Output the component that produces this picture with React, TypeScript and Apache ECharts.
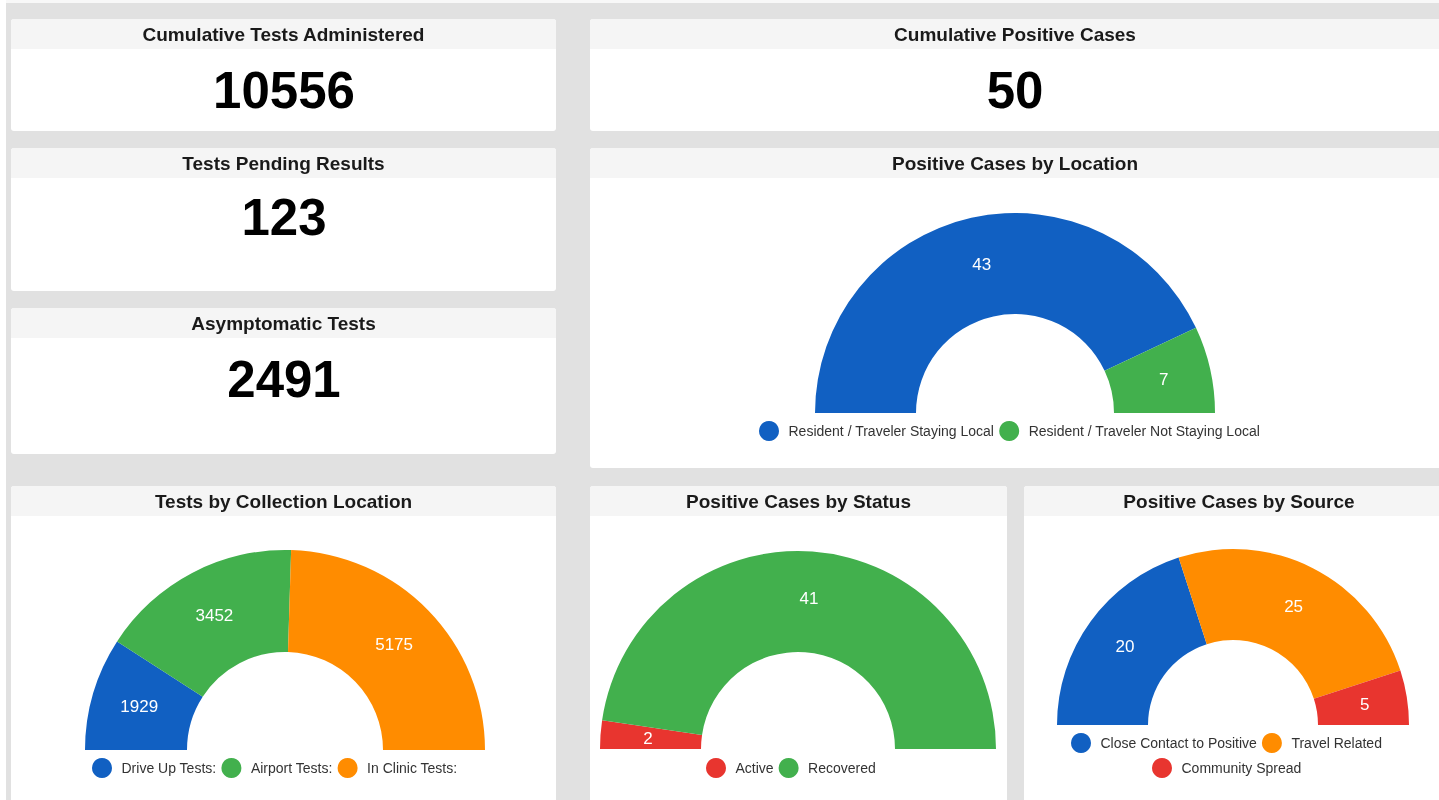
import React, { useEffect, useRef } from "react";
import * as echarts from "echarts";

// ---- data ----
const statTitles = ["Cumulative Tests Administered", "Cumulative Positive Cases", "Tests Pending Results", "Asymptomatic Tests"];
const statValues = [10556, 50, 123, 2491];

const locationNames = ["Resident / Traveler Staying Local", "Resident / Traveler Not Staying Local"];
const locationValues = [43, 7];

const collectionNames = ["Drive Up Tests:", "Airport Tests:", "In Clinic Tests:"];
const collectionValues = [1929, 3452, 5175];

const statusNames = ["Active", "Recovered"];
const statusValues = [2, 41];

const sourceNames = ["Close Contact to Positive", "Travel Related", "Community Spread"];
const sourceValues = [20, 25, 5];

const chartTitles = ["Positive Cases by Location", "Tests by Collection Location", "Positive Cases by Status", "Positive Cases by Source"];

const BLUE = "#1160C2";
const GREEN = "#42B04D";
const ORANGE = "#FF8C00";
const RED = "#E8352F";

const FONT = "'Liberation Sans', Arial, sans-serif";

type Card = { x: number; y: number; w: number; h: number; title: string };

export default function App() {
  const ref = useRef<HTMLDivElement>(null);

  useEffect(() => {
    if (!ref.current) return;
    const chart = echarts.init(ref.current, undefined, { renderer: "svg" });

    const cards: Card[] = [
      { x: 11, y: 19, w: 545, h: 112, title: statTitles[0] },
      { x: 590, y: 19, w: 860, h: 112, title: statTitles[1] },
      { x: 11, y: 148, w: 545, h: 143, title: statTitles[2] },
      { x: 11, y: 308, w: 545, h: 146, title: statTitles[3] },
      { x: 590, y: 148, w: 860, h: 320, title: chartTitles[0] },
      { x: 11, y: 486, w: 545, h: 330, title: chartTitles[1] },
      { x: 590, y: 486, w: 417, h: 330, title: chartTitles[2] },
      { x: 1024, y: 486, w: 430, h: 330, title: chartTitles[3] },
    ];
    const valuePos = [
      { x: 284, y: 90 },
      { x: 1015, y: 90 },
      { x: 284, y: 217 },
      { x: 284, y: 379 },
    ];

    const graphics: any[] = [
      { type: "rect", shape: { x: 0, y: 0, width: 1439, height: 800 }, style: { fill: "#ffffff" }, z: -10, silent: true },
      { type: "rect", shape: { x: 6, y: 3, width: 1433, height: 797 }, style: { fill: "#e1e1e1" }, z: -9, silent: true },
    ];
    cards.forEach((c) => {
      graphics.push({ type: "rect", shape: { x: c.x, y: c.y, width: c.w, height: c.h, r: 3 }, style: { fill: "#ffffff" }, z: -8, silent: true });
      graphics.push({ type: "rect", shape: { x: c.x, y: c.y, width: c.w, height: 30, r: [3, 3, 0, 0] }, style: { fill: "#f5f5f5" }, z: -7, silent: true });
      const cx = c.w > 800 ? 1015 : c.x + c.w / 2;
      graphics.push({
        type: "text", x: cx, y: c.y + 15, z: -6, silent: true,
        style: { text: c.title, fill: "#1a1a1a", font: `bold 19px ${FONT}`, textAlign: "center", textVerticalAlign: "middle" },
      });
    });
    // top strip of previous card
    graphics.push({ type: "rect", shape: { x: 6, y: -20, width: 1433, height: 23 }, style: { fill: "#f8f8f8" }, z: -8, silent: true });
    statValues.forEach((v, i) => {
      graphics.push({
        type: "text", x: valuePos[i].x, y: valuePos[i].y, z: -6, silent: true,
        style: { text: String(v), fill: "#000000", font: `bold 51px ${FONT}`, textAlign: "center", textVerticalAlign: "middle" },
      });
    });

    const pieBase = (name: string, names: string[], values: number[], colors: string[], center: number[], radius: number[]) => ({
      type: "pie",
      name,
      center,
      radius,
      startAngle: 180,
      endAngle: 360,
      clockwise: true,
      avoidLabelOverlap: false,
      label: { show: true, position: "inside", color: "#ffffff", fontSize: 17, fontFamily: FONT, formatter: "{c}" },
      labelLine: { show: false },
      emphasis: { disabled: true },
      itemStyle: { borderWidth: 0 },
      data: names.map((n, i) => ({ name: n, value: values[i], itemStyle: { color: colors[i] } })),
    });

    const legendBase = (data: string[], left: number, top: number) => ({
      data,
      left,
      top,
      orient: "horizontal",
      icon: "circle",
      itemWidth: 29,
      itemHeight: 20,
      itemGap: 5,
      selectedMode: false,
      padding: 0,
      textStyle: { fontSize: 14, color: "#333333", fontFamily: FONT },
    });

    chart.setOption({
      animation: false,
      graphic: graphics,
      legend: [
        legendBase(locationNames, 759, 421),
        legendBase(collectionNames, 92, 758),
        legendBase(statusNames, 706, 758),
        legendBase(sourceNames.slice(0, 2), 1071, 733),
        legendBase(sourceNames.slice(2), 1152, 758),
      ],
      series: [
        pieBase("location", locationNames, locationValues, [BLUE, GREEN], [1015, 413], [99, 200]),
        pieBase("collection", collectionNames, collectionValues, [BLUE, GREEN, ORANGE], [285, 750], [98, 200]),
        pieBase("status", statusNames, statusValues, [RED, GREEN], [798, 749], [97, 198]),
        pieBase("source", sourceNames, sourceValues, [BLUE, ORANGE, RED], [1233, 725], [85, 176]),
      ],
    });

    return () => chart.dispose();
  }, []);

  return <div ref={ref} style={{ position: "fixed", left: 0, top: 0, width: 1439, height: 800 }} />;
}
